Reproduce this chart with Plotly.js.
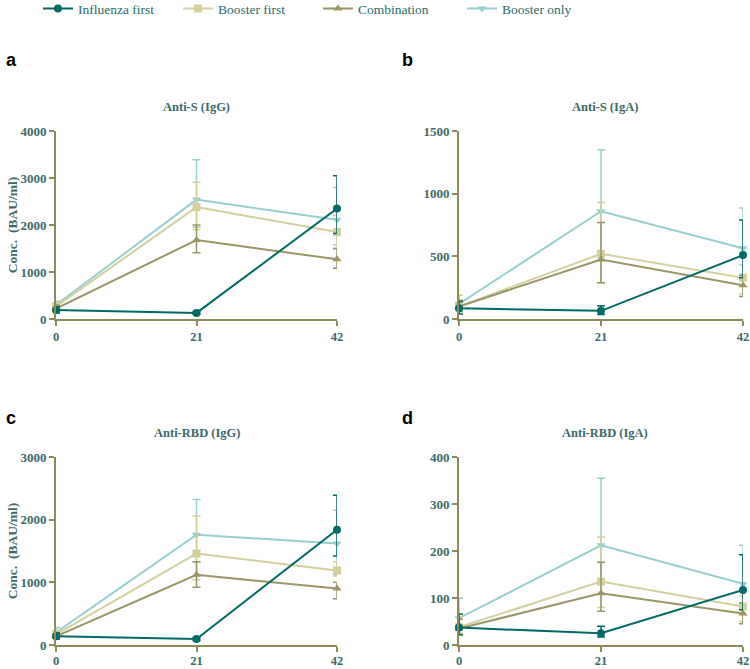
<!DOCTYPE html>
<html><head><meta charset="utf-8">
<script src="https://cdn.plot.ly/plotly-3.0.1.min.js"></script>
<style>html,body{margin:0;padding:0;background:#fff}#chart{width:750px;height:669px}</style>
</head><body><div id="chart"></div>
<script>
const days = [0, 21, 42];
const seriesNames = ["Influenza first", "Booster first", "Combination", "Booster only"];
const panelTitles = ["Anti-S (IgG)", "Anti-S (IgA)", "Anti-RBD (IgG)", "Anti-RBD (IgA)"];
const panelLetters = ["a", "b", "c", "d"];
const yMax = [4000, 1500, 3000, 400];
const yTicks = [[0,1000,2000,3000,4000],[0,500,1000,1500],[0,1000,2000,3000],[0,100,200,300,400]];

// Panel a: Anti-S (IgG)
const sIgG_infl = [190, 130, 2350];   const sIgG_infl_hi = [260, 160, 3050];   const sIgG_infl_lo = [130, 100, 1820];
const sIgG_boost1 = [270, 2380, 1850]; const sIgG_boost1_hi = [350, 2910, 2200]; const sIgG_boost1_lo = [200, 1900, 1500];
const sIgG_comb = [220, 1680, 1270];  const sIgG_comb_hi = [300, 2000, 1500];  const sIgG_comb_lo = [160, 1410, 1080];
const sIgG_only = [300, 2540, 2110];  const sIgG_only_hi = [380, 3390, 2800];  const sIgG_only_lo = [230, 1950, 1580];
// Panel b: Anti-S (IgA)
const sIgA_infl = [85, 65, 510];      const sIgA_infl_hi = [140, 105, 790];    const sIgA_infl_lo = [40, 35, 330];
const sIgA_boost1 = [100, 520, 330];  const sIgA_boost1_hi = [190, 930, 430];  const sIgA_boost1_lo = [60, 290, 200];
const sIgA_comb = [100, 475, 270];    const sIgA_comb_hi = [150, 770, 350];    const sIgA_comb_lo = [60, 290, 180];
const sIgA_only = [120, 860, 565];    const sIgA_only_hi = [190, 1350, 885];   const sIgA_only_lo = [80, 520, 340];
// Panel c: Anti-RBD (IgG)
const rIgG_infl = [140, 95, 1840];    const rIgG_infl_hi = [190, 120, 2390];   const rIgG_infl_lo = [100, 70, 1420];
const rIgG_boost1 = [170, 1460, 1190]; const rIgG_boost1_hi = [240, 2060, 1330]; const rIgG_boost1_lo = [110, 1040, 1100];
const rIgG_comb = [140, 1120, 900];   const rIgG_comb_hi = [200, 1330, 1000];  const rIgG_comb_lo = [90, 920, 740];
const rIgG_only = [200, 1760, 1620];  const rIgG_only_hi = [280, 2320, 2150];  const rIgG_only_lo = [140, 1330, 1120];
// Panel d: Anti-RBD (IgA)
const rIgA_infl = [37, 25, 117];      const rIgA_infl_hi = [66, 40, 192];      const rIgA_infl_lo = [22, 17, 75];
const rIgA_boost1 = [38, 135, 82];    const rIgA_boost1_hi = [60, 230, 105];   const rIgA_boost1_lo = [25, 80, 50];
const rIgA_comb = [35, 110, 67];      const rIgA_comb_hi = [55, 176, 90];      const rIgA_comb_lo = [22, 72, 45];
const rIgA_only = [57, 212, 130];     const rIgA_only_hi = [100, 355, 212];    const rIgA_only_lo = [35, 130, 80];

const panels = [
  [[sIgG_infl,sIgG_infl_hi,sIgG_infl_lo],[sIgG_boost1,sIgG_boost1_hi,sIgG_boost1_lo],[sIgG_comb,sIgG_comb_hi,sIgG_comb_lo],[sIgG_only,sIgG_only_hi,sIgG_only_lo]],
  [[sIgA_infl,sIgA_infl_hi,sIgA_infl_lo],[sIgA_boost1,sIgA_boost1_hi,sIgA_boost1_lo],[sIgA_comb,sIgA_comb_hi,sIgA_comb_lo],[sIgA_only,sIgA_only_hi,sIgA_only_lo]],
  [[rIgG_infl,rIgG_infl_hi,rIgG_infl_lo],[rIgG_boost1,rIgG_boost1_hi,rIgG_boost1_lo],[rIgG_comb,rIgG_comb_hi,rIgG_comb_lo],[rIgG_only,rIgG_only_hi,rIgG_only_lo]],
  [[rIgA_infl,rIgA_infl_hi,rIgA_infl_lo],[rIgA_boost1,rIgA_boost1_hi,rIgA_boost1_lo],[rIgA_comb,rIgA_comb_hi,rIgA_comb_lo],[rIgA_only,rIgA_only_hi,rIgA_only_lo]]
];

const colors = ["#006a64", "#d3d09d", "#9a9565", "#96cfcf"];
const symbols = ["circle", "square", "triangle-up", "triangle-down"];
const drawOrder = [3, 1, 2, 0];
const axisColor = "#8e8a5a";
const tickColor = "#3c6a6a";
const serif = "Liberation Serif, Times New Roman, serif";

const W = 750, H = 669;
const xPix = [[56, 337], [459, 743], [56, 337], [459, 743]];
const yPix = [[131, 319], [131, 319], [457, 645], [457, 645]];
const legendTextX = [78, 218, 358, 502];
const legendIds = ["legend", "legend2", "legend3", "legend4"];

const traces = [];
panels.forEach((p, pi) => {
  const ax = pi === 0 ? "" : String(pi + 1);
  drawOrder.forEach(si => {
    const [m, hi, lo] = p[si];
    traces.push({
      x: days, y: m, type: "scatter", mode: "lines+markers",
      xaxis: "x" + ax, yaxis: "y" + ax,
      name: seriesNames[si], legend: legendIds[si], showlegend: pi === 0,
      cliponaxis: false,
      line: {color: colors[si], width: 2},
      marker: {color: colors[si], symbol: symbols[si], size: 8},
      error_y: {type: "data", symmetric: false,
        array: hi.map((v, i) => v - m[i]), arrayminus: m.map((v, i) => v - lo[i]),
        color: colors[si], thickness: 1.5, width: 4}
    });
  });
});

const layout = {
  width: W, height: H, margin: {l: 0, r: 0, t: 0, b: 0, autoexpand: false},
  paper_bgcolor: "#fff", plot_bgcolor: "#fff",
  showlegend: true,
  annotations: [],
};
legendIds.forEach((id, i) => {
  layout[id] = {orientation: "h", x: (legendTextX[i] - 40) / W, y: 1.01, xanchor: "left", yanchor: "top",
    itemwidth: 30, bgcolor: "rgba(0,0,0,0)",
    font: {family: serif, size: 13.5, color: "#2b6c6b"}};
});

panels.forEach((p, pi) => {
  const ax = pi === 0 ? "" : String(pi + 1);
  const [x0, x1] = xPix[pi], [yt, yb] = yPix[pi];
  layout["xaxis" + ax] = {
    domain: [x0 / W, x1 / W], range: [0, 42], anchor: "y" + ax,
    tickvals: days, ticktext: days.map(String), ticks: "outside", ticklen: 5, tickwidth: 2, tickcolor: axisColor,
    showline: true, linecolor: axisColor, linewidth: 2, showgrid: false, zeroline: false,
    ticklabelstandoff: pi < 2 ? 0 : -2, automargin: false,
    tickfont: {family: serif, size: 12.5, color: tickColor, weight: "bold"},
    showticklabels: true
  };
  layout["yaxis" + ax] = {
    domain: [(H - yb) / H, (H - yt) / H], range: [0, yMax[pi]], anchor: "x" + ax,
    tickvals: yTicks[pi], ticks: "outside", ticklen: 5, tickwidth: 2, tickcolor: axisColor,
    showline: true, linecolor: axisColor, linewidth: 2, showgrid: false, zeroline: false, automargin: false,
    tickfont: {family: serif, size: 13, color: tickColor, weight: "bold"},
    title: (pi % 2 === 0) ? {text: "Conc.  (BAU/ml)", standoff: 0, font: {family: serif, size: 13.5, color: tickColor, weight: "bold"}} : {text: ""}
  };
  layout.annotations.push({
    xref: "paper", yref: "paper", x: (x0 + x1) / 2 / W + (pi % 2 === 1 ? 0.005 : 0), y: (H - (yt - 24)) / H,
    text: panelTitles[pi], showarrow: false, xanchor: "center", yanchor: "middle",
    font: {family: serif, size: 12.5, color: tickColor, weight: "bold"}
  });
  layout.annotations.push({
    xref: "paper", yref: "paper", x: (pi % 2 === 0 ? 4 : 400) / W, y: (H - (pi < 2 ? 60 : 418)) / H,
    text: panelLetters[pi], showarrow: false, xanchor: "left", yanchor: "middle",
    font: {family: "Liberation Sans, Arial, sans-serif", size: 18, color: "#000", weight: "bold"}
  });
});

Plotly.newPlot("chart", traces, layout, {displayModeBar: false, staticPlot: true});
</script></body></html>
